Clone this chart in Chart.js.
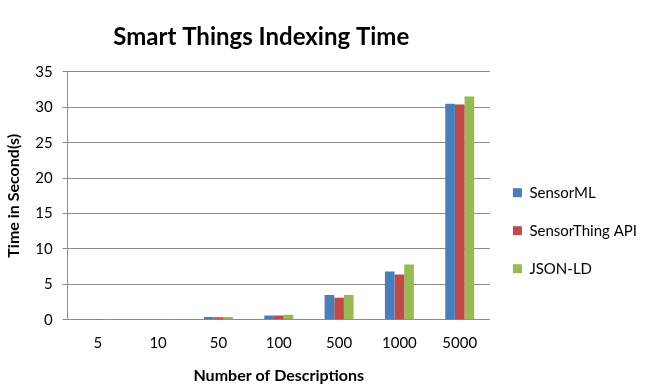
<!DOCTYPE html>
<html>
<head>
<meta charset="utf-8">
<script src="https://cdn.jsdelivr.net/npm/chart.js@4"></script>
<style>
  html, body { margin: 0; padding: 0; background: #fff; }
  #wrap { width: 649px; height: 385px; }
</style>
</head>
<body>
<div id="wrap"><canvas id="barchart"></canvas></div>
<script>
// data
const categories = ['5', '10', '50', '100', '500', '1000', '5000'];
const sensorML = [0.03, 0.05, 0.38, 0.6, 3.5, 6.8, 30.5];
const sensorThing = [0.02, 0.04, 0.35, 0.6, 3.1, 6.4, 30.4];
const jsonLD = [0.03, 0.05, 0.38, 0.7, 3.5, 7.8, 31.5];
const yTicks = [0, 5, 10, 15, 20, 25, 30, 35];

const font = 'Lato, "Open Sans", sans-serif';

const ctx = document.getElementById('barchart');

new Chart(ctx, {
  type: 'bar',
  data: {
    labels: categories,
    datasets: [
      { label: 'SensorML', data: sensorML, backgroundColor: '#4a7ebb' },
      { label: 'SensorThing API', data: sensorThing, backgroundColor: '#be4b48' },
      { label: 'JSON-LD', data: jsonLD, backgroundColor: '#98b954' }
    ]
  },
  options: {
    responsive: true,
    maintainAspectRatio: false,
    animation: false,
    layout: { padding: { left: 4, right: 2, top: 10, bottom: 0 } },
    datasets: {
      bar: { barPercentage: 1, categoryPercentage: 0.48 }
    },
    scales: {
      x: {
        grid: { display: false, drawTicks: false },
        border: { color: '#8c8c8c', width: 1 },
        ticks: { color: '#000', font: { family: font, size: 15 }, padding: 14 },
        title: {
          display: true,
          text: 'Number of Descriptions',
          color: '#000',
          font: { family: font, size: 16, weight: 'bold' },
          padding: { top: 0, bottom: 0 }
        }
      },
      y: {
        min: 0,
        max: 35,
        afterBuildTicks: axis => { axis.ticks = yTicks.map(v => ({ value: v })); },
        grid: { color: '#8c8c8c', lineWidth: 1, tickLength: 5 },
        border: { color: '#8c8c8c', width: 1 },
        ticks: { color: '#000', font: { family: font, size: 15 }, padding: 10 },
        title: {
          display: true,
          text: 'Time in Second(s)',
          color: '#000',
          font: { family: font, size: 16, weight: 'bold' },
          padding: { top: 0, bottom: 2 }
        }
      }
    },
    plugins: {
      title: {
        display: true,
        // trailing no-break spaces nudge the centred title a little left, as in the source
        text: 'Smart Things Indexing Time\u00a0\u00a0\u00a0\u00a0\u00a0\u00a0',
        color: '#000',
        fullSize: false,
        font: { family: font, size: 24, weight: 'bold' },
        padding: { top: 13, bottom: 20 }
      },
      legend: {
        position: 'right',
        title: { display: true, text: ' ', padding: { top: 52, bottom: 0 } },
        labels: {
          color: '#000',
          font: { family: font, size: 15 },
          boxWidth: 9,
          boxHeight: 9,
          padding: 23
        }
      },
      tooltip: { enabled: false }
    }
  }
});
</script>
</body>
</html>
